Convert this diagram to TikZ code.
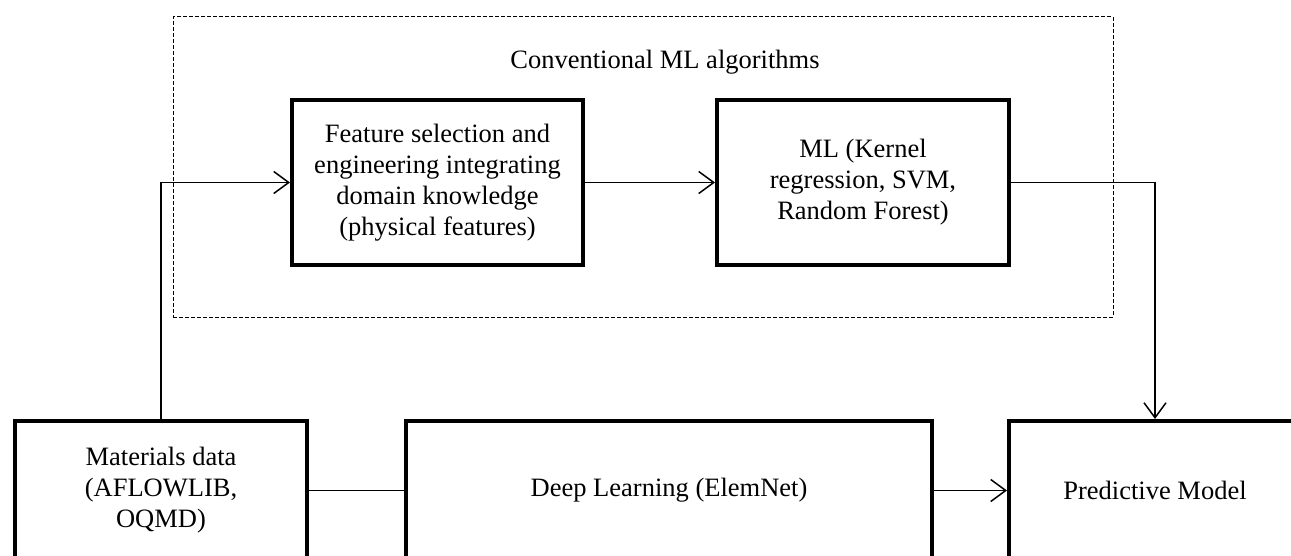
\documentclass[tikz,border=0pt]{standalone}
\usepackage{fontspec}
\setmainfont{Liberation Serif}
\usetikzlibrary{arrows.meta}
\begin{document}
\begin{tikzpicture}[x=1pt,y=-1pt,
  box/.style={draw, line width=4pt, align=center, inner sep=0pt,
    font=\fontsize{26.5}{31}\selectfont},
  conn/.style={line width=1.5pt},
  arr/.style={conn, -{Straight Barb[length=15pt,width=22pt,line width=1.5pt]}},
  grpframe/.style={draw, line width=1pt, dash pattern=on 4pt off 2pt},
  lbl/.style={font=\fontsize{26.5}{31}\selectfont, inner sep=0pt}]
\clip (0,0) rectangle (1291,556);
\node[grpframe, minimum width=940pt, minimum height=300pt, inner sep=0pt] (grp) at (643,167) {};
\node[lbl] (title) at (665,62) {Conventional ML algorithms};
\node[box, minimum width=291pt, minimum height=165pt] (feat) at (437.5,182.5)
  {Feature selection and\\engineering integrating\\domain knowledge\\(physical features)};
\node[box, minimum width=292pt, minimum height=165pt] (ml) at (863,182.5)
  {ML (Kernel\\regression, SVM,\\Random Forest)};
\node[box, minimum width=292pt, minimum height=139pt] (mat) at (161,490.5)
  {Materials data\\(AFLOWLIB,\\OQMD)};
\node[box, minimum width=526pt, minimum height=139pt] (dl) at (669,490.5)
  {Deep Learning (ElemNet)};
\node[box, minimum width=292pt, minimum height=139pt] (pred) at (1155,490.5)
  {Predictive Model};
\draw[arr] (mat.north) |- (feat.west);
\draw[arr] (feat) -- (ml);
\draw[arr] (ml.east) -| (pred.north);
\draw[conn] (mat) -- (dl);
\draw[arr] (dl) -- (pred);
\end{tikzpicture}
\end{document}
